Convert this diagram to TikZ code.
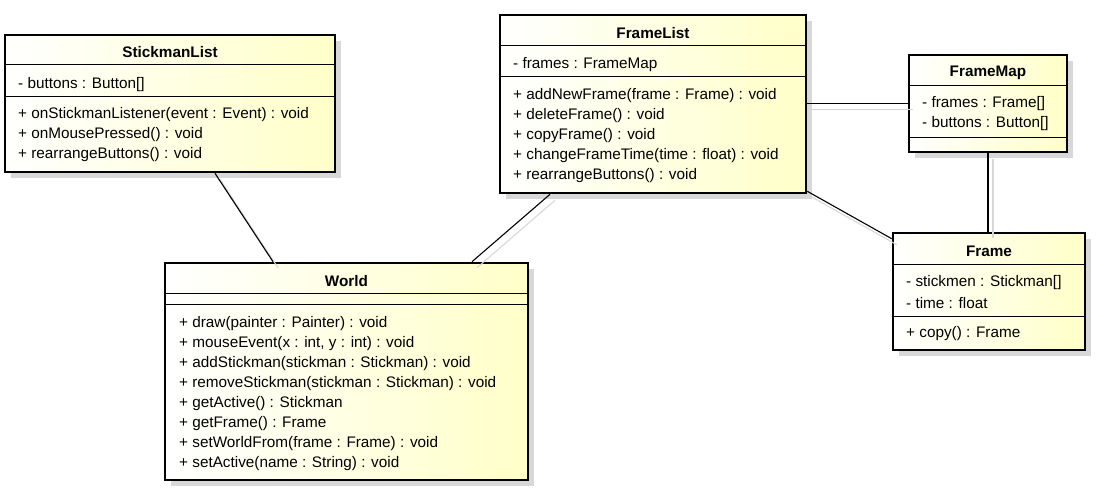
\documentclass[tikz,border=0pt]{standalone}
\usepackage{fontspec}
\setmainfont{Liberation Sans}
\usetikzlibrary{shadows}
\definecolor{classfill}{RGB}{255,255,200}
\definecolor{shadowgray}{RGB}{216,216,216}
\begin{document}
\begin{tikzpicture}[x=1pt,y=-1pt,
    classbox/.style={draw, line width=2.6pt, left color=white, right color=classfill,
        drop shadow={shadow xshift=6pt, shadow yshift=-6pt, fill=shadowgray, opacity=1}},
    sep/.style={line width=0.8pt},
    title/.style={yshift=-1pt, font=\fontsize{15.3}{18}\selectfont\bfseries},
    member/.style={anchor=west, inner sep=0pt, yshift=-2pt, font=\fontsize{15.3}{18}\selectfont},
    assoc/.style={line width=1.1pt,
        preaction={draw=shadowgray, line width=1.1pt, transform canvas={shift={(5pt,-6pt)}}}}]
        \useasboundingbox (0,0) rectangle (1098,490);

        % classes
        \node[classbox, minimum width=330, minimum height=137] (stickmanList) at (170,103.5) {};
        \node[classbox, minimum width=306, minimum height=178] (frameList) at (653,104) {};
        \node[classbox, minimum width=158, minimum height=97] (frameMap) at (988,103.5) {};
        \node[classbox, minimum width=192, minimum height=117] (frame) at (989,291.5) {};
        \node[classbox, minimum width=363, minimum height=217] (world) at (346.5,371.5) {};

        % compartments
        \draw[sep] (stickmanList.west |- 0,64) -- (stickmanList.east |- 0,64);
        \draw[sep] (stickmanList.west |- 0,96) -- (stickmanList.east |- 0,96);
        \draw[sep] (frameList.west |- 0,45) -- (frameList.east |- 0,45);
        \draw[sep] (frameList.west |- 0,76) -- (frameList.east |- 0,76);
        \draw[sep] (frameMap.west |- 0,85) -- (frameMap.east |- 0,85);
        \draw[sep] (frameMap.west |- 0,137) -- (frameMap.east |- 0,137);
        \draw[sep] (frame.west |- 0,264) -- (frame.east |- 0,264);
        \draw[sep] (frame.west |- 0,316) -- (frame.east |- 0,316);
        \draw[sep] (world.west |- 0,293) -- (world.east |- 0,293);
        \draw[sep] (world.west |- 0,304) -- (world.east |- 0,304);

        % StickmanList
        \node[title] (stickmanListName) at (170,51) {StickmanList};
        \node[member] at (18,83) {- buttons : Button[]};
        \node[member] at (18,113) {+ onStickmanListener(event : Event) : void};
        \node[member] at (18,133) {+ onMousePressed() : void};
        \node[member] at (18,153) {+ rearrangeButtons() : void};

        % FrameList
        \node[title] (frameListName) at (653,32) {FrameList};
        \node[member] at (513,63) {- frames : FrameMap};
        \node[member] at (513,94) {+ addNewFrame(frame : Frame) : void};
        \node[member] at (513,114) {+ deleteFrame() : void};
        \node[member] at (513,134) {+ copyFrame() : void};
        \node[member] at (513,154) {+ changeFrameTime(time : float) : void};
        \node[member] at (513,174) {+ rearrangeButtons() : void};

        % FrameMap
        \node[title] (frameMapName) at (988,72) {FrameMap};
        \node[member] at (922,102) {- frames : Frame[]};
        \node[member] at (922,122) {- buttons : Button[]};

        % Frame
        \node[title] (frameName) at (989,250) {Frame};
        \node[member] at (906,281) {- stickmen : Stickman[]};
        \node[member] at (906,301) {- time : float};
        \node[member] at (906,332) {+ copy() : Frame};

        % World
        \node[title] (worldName) at (346.5,280) {World};
        \node[member] at (179,322) {+ draw(painter : Painter) : void};
        \node[member] at (179,342) {+ mouseEvent(x : int, y : int) : void};
        \node[member] at (179,362) {+ addStickman(stickman : Stickman) : void};
        \node[member] at (179,382) {+ removeStickman(stickman : Stickman) : void};
        \node[member] at (179,402) {+ getActive() : Stickman};
        \node[member] at (179,422) {+ getFrame() : Frame};
        \node[member] at (179,442) {+ setWorldFrom(frame : Frame) : void};
        \node[member] at (179,462) {+ setActive(name : String) : void};

        % associations
        \draw[assoc] ([xshift=45]stickmanList.south) -- ([xshift=-73.5]world.north);
        \draw[assoc] ([xshift=-103]frameList.south) -- ([xshift=125.5]world.north);
        \draw[assoc] (frameMap.west -| frameList.east) -- (frameMap.west);
        \draw[assoc] ([yshift=3]frameList.south east) -- ([yshift=-7]frame.north west);
        \draw[assoc] (frameMap.south) -- (frameMap.south |- frame.north);
    \end{tikzpicture}
\end{document}
